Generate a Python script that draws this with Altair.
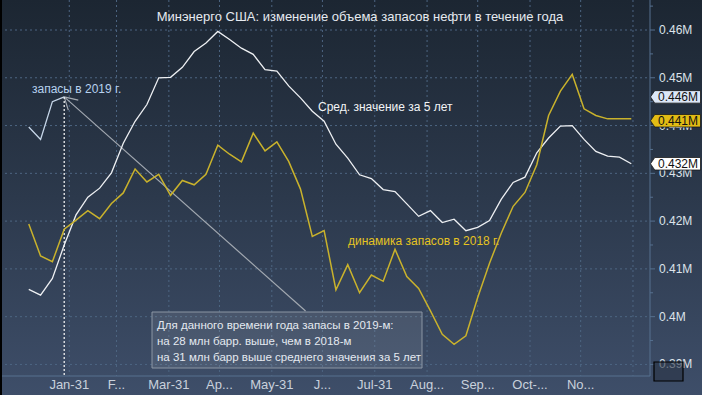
import pandas as pd
import altair as alt

# ---------------- data ----------------
week_start = "2018-01-07"
n_weeks = 52

avg5 = [0.4057, 0.4045, 0.4080, 0.4150, 0.4213, 0.4250, 0.4269, 0.4301, 0.4363, 0.4409,
        0.4444, 0.4500, 0.4501, 0.4522, 0.4555, 0.4573, 0.4597, 0.4580, 0.4562, 0.4549,
        0.4517, 0.4514, 0.4483, 0.4458, 0.4430, 0.4409, 0.4361, 0.4332, 0.4297, 0.4289,
        0.4266, 0.4262, 0.4236, 0.4210, 0.4222, 0.4197, 0.4204, 0.4180, 0.4187, 0.4201,
        0.4246, 0.4281, 0.4292, 0.4343, 0.4374, 0.4399, 0.4400, 0.4371, 0.4346, 0.4336,
        0.4334, 0.4320]

stocks2018 = [0.4194, 0.4127, 0.4115, 0.4183, 0.4202, 0.4222, 0.4205, 0.4237, 0.4259, 0.4309,
              0.4282, 0.4298, 0.4254, 0.4285, 0.4276, 0.4298, 0.4359, 0.4340, 0.4324, 0.4384,
              0.4347, 0.4366, 0.4325, 0.4267, 0.4168, 0.4180, 0.4056, 0.4109, 0.4050, 0.4087,
              0.4074, 0.4141, 0.4084, 0.4059, 0.4012, 0.3963, 0.3942, 0.3960, 0.4040, 0.4112,
              0.4175, 0.4231, 0.4260, 0.4318, 0.4421, 0.4472, 0.4507, 0.4435, 0.4421, 0.4414,
              0.4414, 0.4414]

stocks2019 = [0.4397, 0.4371, 0.4450, 0.4460]

month_ends = ["2018-01-31", "2018-02-28", "2018-03-31", "2018-04-30", "2018-05-31", "2018-06-30",
              "2018-07-31", "2018-08-31", "2018-09-30", "2018-10-31", "2018-11-30", "2018-12-31"]
month_labels = ["Jan-31", "F...", "Mar-31", "Ap...", "May-31", "J...", "Jul-31", "Aug...",
                "Sep...", "Oct-...", "No...", ""]

y_major = [0.39, 0.40, 0.41, 0.42, 0.43, 0.44, 0.45, 0.46]
y_minor = [0.395, 0.405, 0.415, 0.425, 0.435, 0.445, 0.455, 0.465]

last_values = [0.446, 0.441, 0.432]
last_labels = ["0.446M", "0.441M", "0.432M"]
last_fills = ["#dce7f7", "#e2bc14", "#ffffff"]

arrow_end_date = "2018-06-20T00:00:00"
arrow_end_value = 0.4012
barb_dates = ["2018-02-05T08:00:00", "2018-01-30T10:00:00"]
barb_values = [0.44532, 0.44323]

title_text = "Минэнерго США: изменение объема запасов нефти в течение года"
label_avg = "Сред. значение за 5 лет"
label_2018 = "динамика запасов в 2018 г."
label_2019 = "запасы в 2019 г."
box_lines = ["Для данного времени года запасы в 2019-м:",
             "на 28 млн барр. выше, чем в 2018-м",
             "на 31 млн барр выше среднего значения за 5 лет"]

# ---------------- frames ----------------
dates = list(pd.date_range(week_start, periods=n_weeks, freq="7D").strftime("%Y-%m-%dT00:00:00"))
lines_df = pd.DataFrame({"date": dates, "avg5": avg5, "s2018": stocks2018})
df2019 = pd.DataFrame({"date": dates[:len(stocks2019)], "v": stocks2019})
months_df = pd.DataFrame({"date": [d + "T00:00:00" for d in month_ends], "label": month_labels})
major_df = pd.DataFrame({"v": y_major})
minor_df = pd.DataFrame({"v": y_minor})
tags_df = pd.DataFrame({"v": last_values, "label": last_labels, "fill": last_fills})
arrow_df = pd.DataFrame({
    "d1": [dates[3], dates[3], dates[3]],
    "v1": [stocks2019[3]] * 3,
    "d2": [arrow_end_date] + barb_dates,
    "v2": [arrow_end_value] + barb_values,
})
one = pd.DataFrame({"k": [0]})

# ---------------- layout ----------------
W, H = 702, 395
PW, PH = 650, 376
FONT = "Liberation Sans"

x_scale = alt.Scale(domain=[alt.DateTime(year=2017, month=12, date=20, hours=23),
                            alt.DateTime(year=2019, month=1, date=10, hours=2)],
                    range=[0, PW], nice=False)
y_scale = alt.Scale(domain=[0.38758, 0.46628], range=[PH, 0], zero=False, nice=False)

grid_color = "#4d6582"
axis_color = "#56708f"


def X(field):
    return alt.X(field, scale=x_scale, axis=None)


def Y(field):
    return alt.Y(field, scale=y_scale, axis=None)


# background gradient
bg = alt.Chart(one).mark_rect(
    color=alt.Gradient(gradient="linear", x1=0, y1=0, x2=0, y2=1,
                       stops=[alt.GradientStop(offset=0, color="#1c2632"),
                              alt.GradientStop(offset=0.5, color="#2c394c"),
                              alt.GradientStop(offset=1, color="#3e4e69")])
).encode(x=alt.value(0), x2=alt.value(W), y=alt.value(0), y2=alt.value(H))

# gridlines
vgrid = alt.Chart(months_df).mark_rule(color=grid_color, strokeDash=[2, 3], strokeWidth=1).encode(
    x=X("date:T"), y=alt.value(0), y2=alt.value(PH))
hgrid = alt.Chart(major_df).mark_rule(color=grid_color, strokeDash=[2, 3], strokeWidth=1).encode(
    y=Y("v:Q"), x=alt.value(0), x2=alt.value(PW))

# axes drawn by hand
x_domain = alt.Chart(one).mark_rule(color=axis_color, strokeWidth=1).encode(
    x=alt.value(0), x2=alt.value(PW), y=alt.value(PH))
y_domain = alt.Chart(one).mark_rule(color=axis_color, strokeWidth=1).encode(
    x=alt.value(PW), y=alt.value(0), y2=alt.value(PH))
major_ticks = alt.Chart(major_df).mark_rule(color=axis_color, strokeWidth=1).encode(
    y=Y("v:Q"), x=alt.value(PW), x2=alt.value(PW + 5))
minor_ticks = alt.Chart(minor_df).mark_rule(color=axis_color, strokeWidth=1).encode(
    y=Y("v:Q"), x=alt.value(PW), x2=alt.value(PW + 3))
y_labels = alt.Chart(major_df).transform_calculate(
    lab="format(datum.v, '.2~f') + 'M'"
).mark_text(align="left", baseline="middle", font=FONT, fontSize=12, color="#dde3ea").encode(
    y=Y("v:Q"), x=alt.value(PW + 9), text="lab:N")
x_labels = alt.Chart(months_df).mark_text(align="center", baseline="middle", font=FONT,
                                          fontSize=13, color="#c9d1dc").encode(
    x=X("date:T"), y=alt.value(385), text="label:N")

left_edge = alt.Chart(one).mark_rect(color="#000000").encode(
    x=alt.value(0), x2=alt.value(2), y=alt.value(0), y2=alt.value(H))

# annotation box
box = alt.Chart(one).mark_rect(fill="#ffffff", fillOpacity=0.09, stroke="#8b96a4", strokeWidth=1).encode(
    x=alt.value(152), x2=alt.value(422), y=alt.value(312), y2=alt.value(368))
box_text = alt.layer(*[
    alt.Chart(one).mark_text(text=t, align="left", baseline="middle", font=FONT, fontSize=11.5,
                             color="#e4e9f0").encode(x=alt.value(157), y=alt.value(yy))
    for t, yy in zip(box_lines, [326, 342, 358])
])

arrow = alt.Chart(arrow_df).mark_rule(color="#a3a9b1", strokeWidth=1.2).encode(
    x=X("d1:T"), y=Y("v1:Q"), x2="d2:T", y2="v2:Q")
marker = alt.Chart(df2019.tail(1)).mark_rule(color="#f0f0f0", strokeDash=[2, 2], strokeWidth=1.3).encode(
    x=X("date:T"), y=Y("v:Q"), y2=alt.value(PH))

line_avg = alt.Chart(lines_df).mark_line(color="#eef0f3", strokeWidth=1.3).encode(
    x=X("date:T"), y=Y("avg5:Q"))
line_2018 = alt.Chart(lines_df).mark_line(color="#c9b22c", strokeWidth=1.5).encode(
    x=X("date:T"), y=Y("s2018:Q"))
line_2019 = alt.Chart(df2019).mark_line(color="#c6d6e8", strokeWidth=1.3).encode(
    x=X("date:T"), y=Y("v:Q"))

title = alt.Chart(one).mark_text(text=title_text, align="center", baseline="middle", font=FONT,
                                 fontSize=13, color="#e6eaf0").encode(x=alt.value(360), y=alt.value(17))
t_avg = alt.Chart(one).mark_text(text=label_avg, align="left", baseline="middle", font=FONT,
                                 fontSize=12, color="#f2f4f6").encode(x=alt.value(318), y=alt.value(107))
t_2018 = alt.Chart(one).mark_text(text=label_2018, align="left", baseline="middle", font=FONT,
                                  fontSize=12, color="#e6c421").encode(x=alt.value(348), y=alt.value(241))
t_2019 = alt.Chart(one).mark_text(text=label_2019, align="left", baseline="middle", font=FONT,
                                  fontSize=12, color="#b7d2ef").encode(x=alt.value(32), y=alt.value(89))

tag_shape = "M-1,0L-0.83,-0.25L1,-0.25L1,0.25L-0.83,0.25Z"
tags = alt.Chart(tags_df).mark_point(shape=tag_shape, filled=True, size=2500, opacity=1,
                                     stroke="#1a1a1a", strokeWidth=0.8).encode(
    y=Y("v:Q"), x=alt.value(675.5), fill=alt.Fill("fill:N", scale=None, legend=None))
tags_text = alt.Chart(tags_df).mark_text(align="left", baseline="middle", font=FONT, fontSize=12,
                                         color="#111111").encode(
    y=Y("v:Q"), x=alt.value(658), text="label:N")

icon = alt.Chart(one).mark_rect(fill="#2a3444", fillOpacity=0.6, stroke="#000000", strokeWidth=1.2).encode(
    x=alt.value(654), x2=alt.value(683), y=alt.value(362), y2=alt.value(381))

chart = alt.layer(
    bg, vgrid, hgrid, x_domain, y_domain, major_ticks, minor_ticks, y_labels, x_labels,
    left_edge, box, box_text, arrow, marker,
    line_avg, line_2018, line_2019, title, t_avg, t_2018, t_2019, tags, tags_text, icon,
).properties(
    width=W, height=H, autosize=alt.AutoSizeParams(type="none"), padding=0,
    background="#2d3a4d",
).configure_view(strokeWidth=0)

chart.save("out.html", embed_options={"renderer": "svg", "actions": False})
